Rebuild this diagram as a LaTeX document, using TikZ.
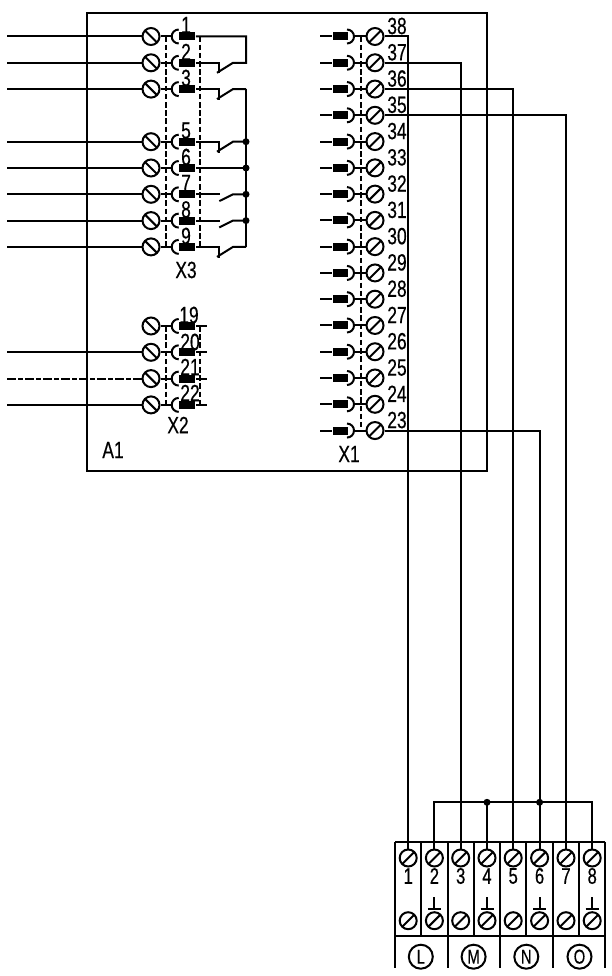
\documentclass[tikz,border=0pt]{standalone}
\usepackage{fontspec}
\usetikzlibrary{calc}
\setmainfont[FakeStretch=0.74,FakeBold=0.4]{Liberation Sans}
\tikzset{
  wire/.style={line width=2pt,line cap=butt,line join=miter},
  frame/.style={line width=2pt},
  dashwire/.style={line width=2pt,dash pattern=on 9pt off 2pt on 5pt off 2pt},
  guide/.style={line width=1.6pt,dash pattern=on 5.5pt off 2.7pt},
  screwL/.style={circle,draw,line width=2pt,minimum size=17pt,inner sep=0pt,
    path picture={\draw[line width=2pt] (path picture bounding box.north west)--(path picture bounding box.south east);}},
  screwR/.style={circle,draw,line width=2pt,minimum size=17pt,inner sep=0pt,
    path picture={\draw[line width=2pt] (path picture bounding box.north east)--(path picture bounding box.south west);}},
  pin/.style={rectangle,fill=black,minimum width=15.5pt,minimum height=8pt,inner sep=0pt},
  lab/.style={inner sep=0pt,font=\fontsize{23.5}{23.5}\selectfont},
  lab2/.style={inner sep=0pt,font=\fontsize{22.5}{22.5}\selectfont},
  junction/.style={circle,fill=black,minimum size=7pt,inner sep=0pt},
  group/.style={circle,draw,line width=2pt,minimum size=24pt,inner sep=0pt,font=\fontsize{20}{20}\selectfont},
}
\begin{document}
\begin{tikzpicture}[x=1pt,y=-1pt,line width=2pt]
\useasboundingbox (0,0) rectangle (612,976);
\fill[white] (0,0) rectangle (612,976);
% enclosure
\coordinate (A1nw) at (87,13.5);
\coordinate (A1se) at (487,470.7);
\draw[frame] (A1nw) rectangle (A1se);
\node[lab] (lA1) at (113,450) {A1};
\node[lab] (lX3) at (186,270) {X3};
\node[lab] (lX2) at (178,425) {X2};
\node[lab] (lX1) at (349,454) {X1};
% left rows
\foreach \n/\y in {1/36.5,2/62.8,3/89.1,5/141.7,6/168,7/194.3,8/220.6,9/246.9,19/326,20/352.3,21/378.6,22/404.9}{
  \node[screwL] (LS\n) at (151,\y) {};
  \node[pin] (LP\n) at (187,\y) {};
  \coordinate (LC\n) at (172,\y);
  \draw[wire] (LS\n) -- (LC\n);
  \draw[wire] (178.7,\y-7) arc[start angle=-90,end angle=-270,radius=7];
}
\foreach \n/\y in {1/36.5,2/62.8,3/89.1,5/141.7,6/168,7/194.3,8/220.6,9/246.9,20/352.3,22/404.9}{
  \coordinate (LF\n) at (7,\y);
  \draw[wire] (LF\n) -- (LS\n);
}
\coordinate (LF21) at (7,378.6);
\draw[dashwire] (LF21) -- (LS21);
% X2 stubs
\foreach \n/\y in {19/326,20/352.3,21/378.6,22/404.9}{
  \coordinate (LE\n) at (207,\y);
  \draw[wire] (LP\n) -- (LE\n);
}
% guides
\coordinate (g1a) at (165.7,36.5); \coordinate (g1b) at (165.7,247);
\coordinate (g2a) at (200,36.5);   \coordinate (g2b) at (200,247);
\coordinate (g3a) at (165.7,326);  \coordinate (g3b) at (165.7,405);
\coordinate (g4a) at (200,326);    \coordinate (g4b) at (200,405);
\draw[guide] (g1a)--(g1b); \draw[guide] (g2a)--(g2b);
\draw[guide] (g3a)--(g3b); \draw[guide] (g4a)--(g4b);
% contacts and common line
\foreach \n/\y in {1/36.5,2/62.8,3/89.1,5/141.7,6/168,7/194.3,8/220.6,9/246.9}{
  \coordinate (B\n) at (246,\y);
}
\draw[wire] (LP1) -- (B1) -- (B2) -- (233,62.8) -- (217,72.8);
\draw[wire] (LP2) -- (219,62.8) -- (219,73);
\foreach \n/\y in {3/89.1,5/141.7,9/246.9}{
  \draw[wire] (LP\n) -- (219,\y) -- (219,\y+11);
  \draw[wire] (217,\y+10) -- (233,\y) -- (B\n);
}
\draw[wire] (LP6) -- (B6);
\foreach \n/\y in {7/194.3,8/220.6}{
  \draw[wire] (LP\n) -- (220,\y);
  \draw[wire] (219.3,\y+6.8) -- (233,\y) -- (B\n);
}
\draw[wire] (B3) -- (B9);
\foreach \n in {5,6,7,8}{\node[junction] (J\n) at (B\n) {};}
% right rows
\foreach \n [count=\k from 0] in {38,37,36,35,34,33,32,31,30,29,28,27,26,25,24,23}{
  \pgfmathsetmacro{\yy}{36.5+26.27*\k}
  \node[screwR] (RS\n) at (375,\yy) {};
  \node[pin] (RP\n) at (340.5,\yy) {};
  \coordinate (RF\n) at (320,\yy);
  \coordinate (RC\n) at (354,\yy);
  \draw[wire] (RF\n) -- (RP\n);
  \draw[wire] (RC\n) -- (RS\n);
  \draw[wire] (347,\yy+7) arc[start angle=90,end angle=-90,radius=7];
}
\coordinate (g5a) at (360.7,36.5); \coordinate (g5b) at (360.7,430);
\draw[guide] (g5a)--(g5b);
% terminal block
\coordinate (TBnw) at (395,841.7);
\coordinate (TBne) at (605,841.7);
\coordinate (TBw) at (395,936);
\coordinate (TBe) at (605.5,936);
\draw[frame] (TBnw) -- (TBne);
\draw[frame] (TBw) -- (TBe);
\foreach \n/\x in {1/408.2,2/434.4,3/460.7,4/487,5/513.2,6/539.6,7/566,8/592.2}{
  \node[screwR] (TA\n) at (\x,858) {};
  \node[screwR] (TB\n) at (\x,920.7) {};
  \node[lab2] (TL\n) at (\x,876) {\n};
}
\foreach \x in {421.3,473.8,526.3,579.2}{\draw[frame] (\x,841.7) -- (\x,936);}
\foreach \x in {395,447.5,500,552.8,605}{\draw[frame] (\x,841.7) -- (\x,967.7);}
\foreach \n in {2,4,6,8}{
  \coordinate (TF\n) at ($(TB\n)+(0,-12.2)$);
  \draw[wire] (TF\n) -- ++(0,-11.5);
  \draw[wire] ($(TF\n)+(-6.5,0)$) -- ($(TF\n)+(6.5,0)$);
}
\node[group] (GL) at (420.8,956.7) {L};
\node[group] (GM) at (473.6,956.7) {M};
\node[group] (GN) at (526.3,956.7) {N};
\node[group] (GO) at (579.5,956.7) {O};
% field wiring
\draw[wire] (RS38) -| (TA1);
\draw[wire] (RS37) -| (TA3);
\draw[wire] (RS36) -| (TA5);
\draw[wire] (RS35) -| (TA7);
\draw[wire] (RS23) -| (TA6);
\coordinate (Bus2) at (TA2 |- 0,802.3);
\coordinate (Bus8) at (TA8 |- 0,802.3);
\coordinate (Bus4) at (TA4 |- 0,802.3);
\coordinate (Bus6) at (TA6 |- 0,802.3);
\draw[wire] (TA2) -- (Bus2) -- (Bus8) -- (TA8);
\draw[wire] (Bus4) -- (TA4);
\node[junction] (J4b) at (Bus4) {};
\node[junction] (J6b) at (Bus6) {};
% numbers
\foreach \t/\x/\y in {1/186/25,2/186/52,3/186/78,5/186/130.5,6/186/157,7/186/183,8/186/209.5,9/186/236,19/189/315,20/190/342,21/190/367,22/190/393}{
  \node[lab] (NL\t) at (\x,\y) {\t};
}
\foreach \n [count=\k from 0] in {38,37,36,35,34,33,32,31,30,29,28,27,26,25,24,23}{
  \pgfmathsetmacro{\yy}{26+26.27*\k}
  \node[lab] (NR\n) at (397,\yy) {\n};
}
\end{tikzpicture}
\end{document}
